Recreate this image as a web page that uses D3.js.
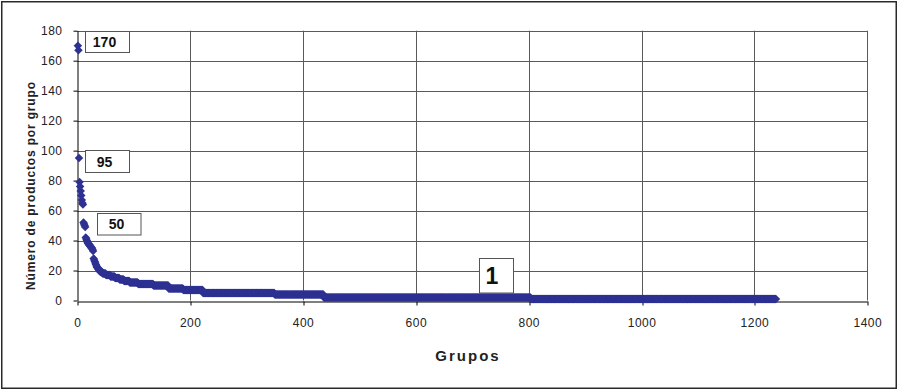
<!DOCTYPE html>
<html>
<head>
<meta charset="utf-8">
<script src="https://cdn.jsdelivr.net/npm/d3@7"></script>
<style>
  html, body { margin: 0; padding: 0; background: #fff; }
  svg { display: block; }
  .tick text { font-family: "Liberation Sans Narrow", "Arial Narrow", "Liberation Sans", sans-serif; font-size: 12px; fill: #222; letter-spacing: 0.5px; }
</style>
</head>
<body>
<svg id="chart" width="899" height="390"></svg>
<script>
// ---- data ----
// first 40 groups, one value each (sorted descending)
const headSizes = [170, 167, 95, 79, 76, 73, 70, 67, 65, 64, 52, 51, 50, 49, 42, 41, 40, 39, 38, 38,
                   37, 37, 36, 36, 35, 35, 34, 33, 28, 27, 26, 25, 24, 23, 22, 22, 21, 21, 20, 20];
// remaining groups as runs: size value and how many groups have it
const runSizes  = [19, 18, 17, 16, 15, 14, 13, 12, 11, 10, 8, 7, 5, 4, 2, 1];
const runCounts = [4, 6, 8, 8, 8, 8, 10, 15, 27, 27, 26, 35, 127, 87, 367, 435];
const xTicks = [0, 200, 400, 600, 800, 1000, 1200, 1400];
const yTicks = [0, 20, 40, 60, 80, 100, 120, 140, 160, 180];
const annotationTexts = ["170", "95", "50", "1"];
const xTitle = "Grupos";
const yTitle = "Número de productos por grupo";

// build the series
const sizes = headSizes.slice();
runSizes.forEach((v, i) => { for (let k = 0; k < runCounts[i]; k++) sizes.push(v); });
const points = sizes.map((v, i) => ({ g: i + 1, v }));

const svg = d3.select("#chart");
const x = d3.scaleLinear().domain([0, 1400]).range([77.3, 867.3]);
const y = d3.scaleLinear().domain([0, 180]).range([300.5, 30.7]);

// outer frame
svg.append("rect").attr("x", 1.75).attr("y", 1.75).attr("width", 894.5).attr("height", 386.5)
  .attr("fill", "#fff").attr("stroke", "#2a2a2a").attr("stroke-width", 1.5);

// gridlines
const grid = svg.append("g").attr("stroke", "#5a5a5a").attr("stroke-width", 1);
grid.selectAll("line.h").data(yTicks.filter(d => d > 0)).join("line")
  .attr("x1", x(0)).attr("x2", x(1400)).attr("y1", d => Math.round(y(d)) + 0.5).attr("y2", d => Math.round(y(d)) + 0.5);
grid.selectAll("line.v").data(xTicks.filter(d => d > 0)).join("line")
  .attr("y1", y(180)).attr("y2", y(0)).attr("x1", d => Math.round(x(d)) + 0.5).attr("x2", d => Math.round(x(d)) + 0.5);

// axes
const fmt = d3.format("d");
const yAxis = svg.append("g").attr("transform", `translate(${Math.round(x(0)) + 0.5},0)`)
  .call(d3.axisLeft(y).tickValues(yTicks).tickFormat(fmt).tickSize(4).tickPadding(11).tickSizeOuter(0));
const xAxis = svg.append("g").attr("transform", `translate(0,${Math.round(y(0)) + 0.5})`)
  .call(d3.axisBottom(x).tickValues(xTicks).tickFormat(fmt).tickSize(4).tickPadding(13).tickSizeOuter(0));
[yAxis, xAxis].forEach(a => {
  a.select(".domain").attr("stroke", "#000");
  a.selectAll(".tick line").attr("stroke", "#000");
});
xAxis.selectAll(".tick line").attr("transform", d => `translate(${Math.round(x(d)) + 0.5 - x(d)},0)`);

// markers
const diamond = d3.symbol().type(d3.symbolSquare).size(36)();
svg.append("g").selectAll("path").data(points).join("path")
  .attr("d", diamond)
  .attr("transform", d => `translate(${x(d.g)},${y(d.v)}) rotate(45)`)
  .attr("fill", "#2e3192");

// annotation boxes (placed in data space)
const boxes = [
  { t: annotationTexts[0], gx: 13.6, vy: 172.9, w: 44, h: 21, fs: 14, tx: 19 },
  { t: annotationTexts[1], gx: 13.6, vy: 93.3, w: 44, h: 22, fs: 14, tx: 19 },
  { t: annotationTexts[2], gx: 34.4, vy: 51.4, w: 43.5, h: 21.5, fs: 14, tx: 19 },
  { t: annotationTexts[3], gx: 712.4, vy: 17.1, w: 34, h: 34.5, fs: 23, tx: 12.5 }
];
const ann = svg.append("g").selectAll("g").data(boxes).join("g")
  .attr("transform", d => `translate(${Math.round(x(d.gx)) + 0.5},${Math.round(y(d.vy) - d.h / 2) + 0.5})`);
ann.append("rect").attr("width", d => d.w).attr("height", d => d.h)
  .attr("fill", "#fff").attr("stroke", "#555").attr("stroke-width", 1);
ann.append("text").text(d => d.t)
  .attr("x", d => d.tx).attr("y", d => d.h / 2).attr("dy", "0.36em").attr("text-anchor", "middle")
  .attr("font-family", "Liberation Sans, Arial, sans-serif").attr("font-weight", "bold")
  .attr("font-size", d => d.fs).attr("fill", "#111");

// titles
svg.append("text").text(xTitle)
  .attr("x", 468).attr("y", 361).attr("text-anchor", "middle")
  .attr("font-family", "Liberation Sans, Arial, sans-serif").attr("font-weight", "bold")
  .attr("font-size", 15).attr("letter-spacing", 2).attr("fill", "#222");
svg.append("text").text(yTitle)
  .attr("transform", "translate(35,186) rotate(-90)").attr("text-anchor", "middle")
  .attr("font-family", "Liberation Sans, Arial, sans-serif").attr("font-weight", "bold")
  .attr("font-size", 12).attr("textLength", 208).attr("lengthAdjust", "spacing").attr("fill", "#222");
</script>
</body>
</html>
